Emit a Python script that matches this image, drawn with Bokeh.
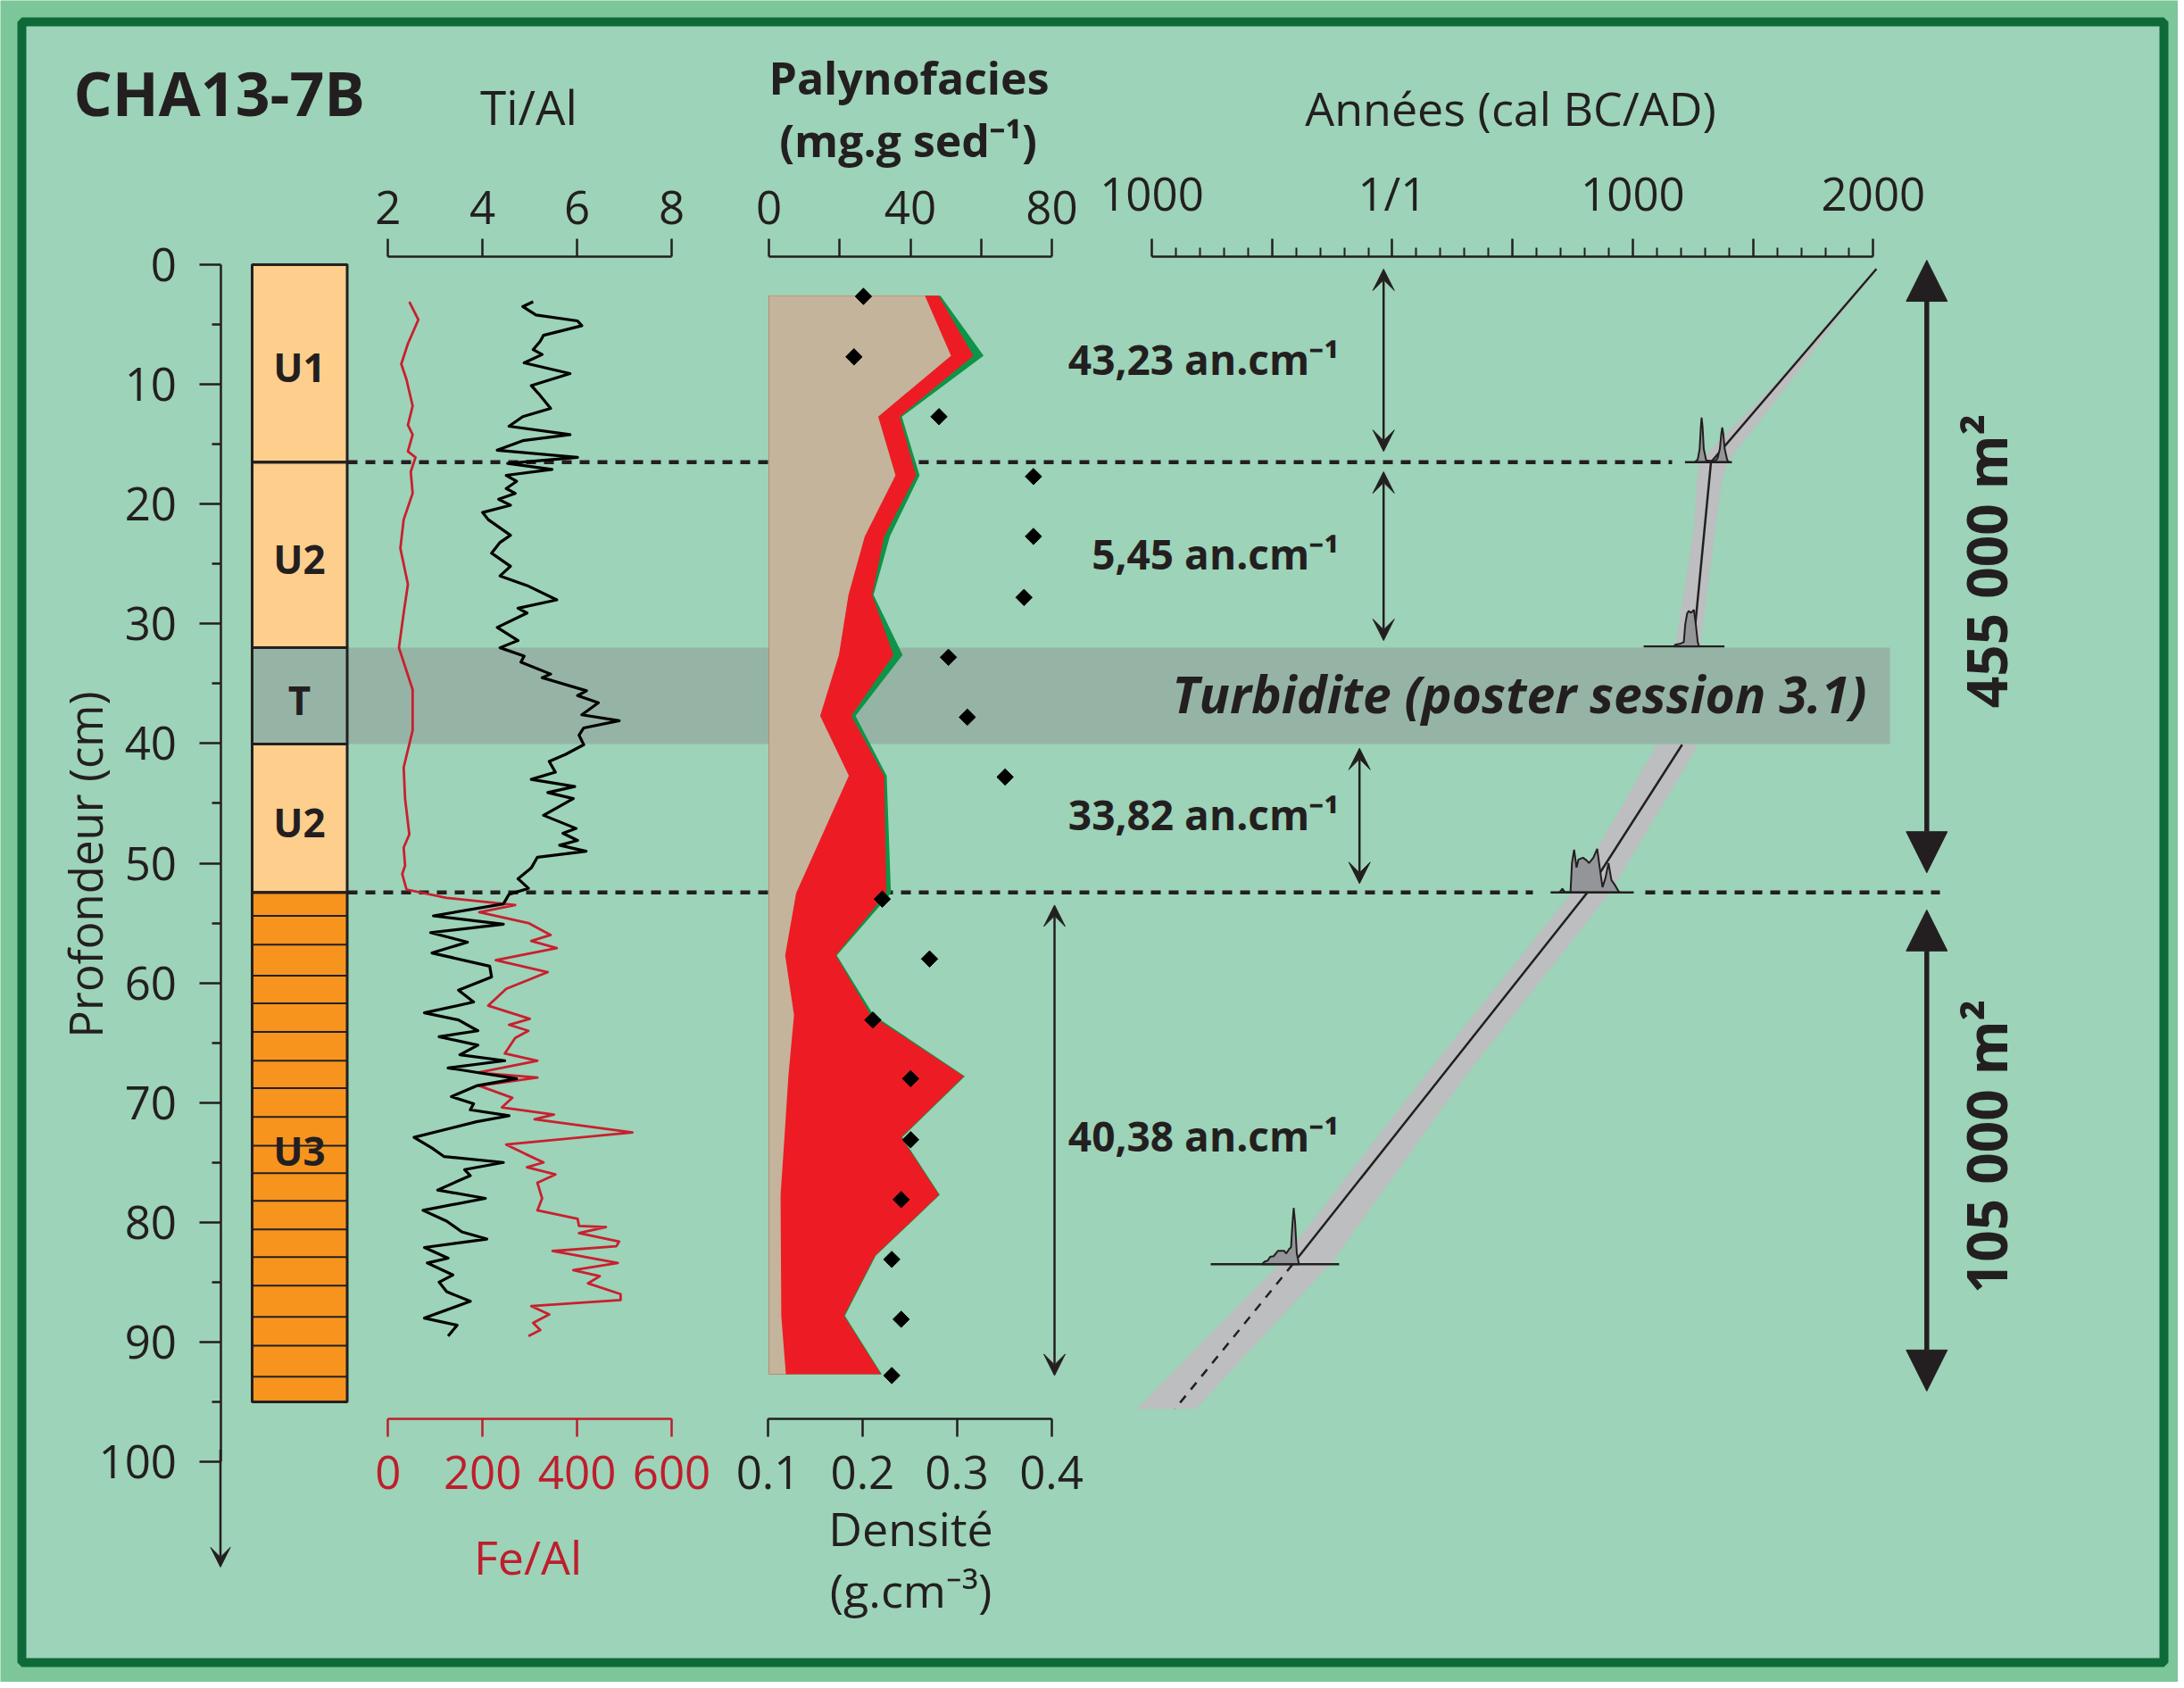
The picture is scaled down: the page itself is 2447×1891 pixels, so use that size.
import numpy as np
from bokeh.plotting import figure
from bokeh.models import Range1d, LinearAxis, FixedTicker, Arrow, VeeHead, NormalHead
from bokeh.core.properties import value
from bokeh.embed import file_html
from bokeh.resources import INLINE

# ---------------- data ----------------
# Ti/Al profile (depth cm, ratio)
tial_depth = [3.1, 3.5, 4.2, 4.7, 5.1, 5.9, 6.4, 7.1, 7.5, 8.2,
              9.1, 10.1, 10.8, 12.0, 12.7, 13.5, 14.2, 14.7, 15.5, 16.1,
              16.6, 17.1, 17.6, 18.1, 18.7, 19.1, 19.6, 20.1, 20.7, 21.3,
              22.6, 23.2, 24.1, 25.2, 26.0, 26.8, 28.0, 28.7, 29.1, 30.3,
              31.4, 32.0, 32.7, 33.2, 34.2, 34.5, 35.6, 36.0, 36.6, 37.6,
              38.1, 38.7, 39.3, 40.1, 40.9, 41.5, 42.4, 43.0, 43.6, 44.1,
              44.6, 46.0, 47.1, 47.5, 48.1, 48.5, 49.0, 49.5, 50.4, 51.3,
              52.1, 52.6, 53.4, 54.4, 55.1, 55.8, 56.6, 57.5, 58.6, 59.5,
              60.6, 61.6, 62.5, 63.1, 64.0, 64.5, 65.2, 66.0, 66.5, 67.1,
              68.0, 68.6, 69.5, 70.1, 70.6, 71.1, 71.6, 72.9, 73.8, 74.5,
              75.0, 75.6, 76.1, 77.3, 78.0, 79.0, 79.9, 80.8, 81.4, 82.1,
              83.0, 83.4, 84.4, 85.0, 85.8, 86.6, 88.0, 88.6, 89.5]
tial_value = [5.07, 4.85, 5.13, 6.01, 6.10, 5.29, 5.22, 5.07, 5.26, 4.88,
              5.85, 5.03, 5.19, 5.44, 4.85, 4.56, 5.85, 4.85, 4.31, 6.01,
              4.53, 5.47, 4.50, 4.72, 4.50, 4.69, 4.34, 4.59, 4.00, 4.12,
              4.59, 4.37, 4.19, 4.59, 4.37, 4.94, 5.57, 4.75, 4.94, 4.31,
              4.75, 4.37, 4.88, 4.81, 5.44, 5.26, 6.20, 6.01, 6.45, 6.10,
              6.89, 6.14, 6.04, 6.14, 5.76, 5.41, 5.54, 5.03, 5.95, 5.38,
              5.92, 5.29, 5.98, 5.70, 6.01, 5.63, 6.19, 5.16, 5.03, 4.75,
              4.97, 4.56, 4.44, 2.96, 4.44, 2.90, 3.68, 2.93, 4.15, 4.19,
              3.49, 3.81, 2.77, 3.49, 3.90, 3.08, 3.90, 3.52, 4.47, 3.27,
              4.72, 3.87, 3.34, 3.81, 3.74, 4.56, 3.87, 2.55, 2.93, 3.18,
              4.44, 3.62, 3.74, 3.05, 4.06, 2.74, 3.24, 3.56, 4.09, 2.77,
              3.27, 2.83, 3.37, 3.08, 3.24, 3.74, 2.77, 3.46, 3.27]

# Fe/Al profile (depth cm, ratio)
feal_depth = [3.1, 4.6, 6.6, 8.3, 9.6, 11.8, 13.4, 14.2, 15.6, 16.1,
              17.3, 19.1, 21.3, 23.7, 26.7, 29.1, 32.0, 35.5, 38.9, 42.0,
              44.6, 47.6, 48.7, 50.2, 50.9, 52.2, 52.9, 53.5, 54.1, 55.0,
              56.0, 56.5, 57.1, 58.1, 59.1, 60.5, 61.9, 63.0, 63.5, 64.0,
              64.6, 65.9, 66.5, 67.5, 67.9, 68.6, 69.6, 70.4, 71.0, 71.4,
              72.5, 73.5, 74.3, 75.0, 75.4, 76.0, 76.7, 78.0, 79.0, 79.7,
              80.3, 80.4, 80.9, 81.6, 82.0, 82.4, 83.4, 84.0, 84.5, 85.1,
              86.0, 86.5, 87.0, 87.7, 88.4, 89.0, 89.5]
feal_value = [45, 64, 42, 28, 39, 52, 42, 52, 42, 58,
              48, 52, 33, 26, 42, 33, 23, 52, 52, 33,
              36, 45, 33, 36, 30, 39, 124, 269, 193, 297,
              344, 303, 357, 228, 338, 250, 212, 300, 256, 297,
              269, 247, 316, 190, 316, 193, 263, 241, 351, 310,
              517, 250, 291, 329, 294, 354, 316, 326, 316, 401,
              404, 461, 404, 489, 483, 348, 486, 392, 448, 423,
              492, 492, 303, 341, 307, 322, 297]

# Palynofacies (mg/g sed) - three stacked components
paly_depth = [2.6, 7.6, 12.7, 17.6, 22.7, 27.6, 32.6, 37.7, 42.7, 52.5,
              57.7, 62.7, 67.8, 72.9, 77.7, 82.8, 87.8, 92.7]
paly_tan = [44.1, 51.5, 30.9, 35.8, 27.1, 22.5, 19.8, 14.5, 22.6, 7.7,
            4.6, 7.1, 5.5, 4.4, 3.3, 3.4, 3.5, 4.8]
paly_red = [3.9, 6.3, 6.1, 5.8, 5.5, 6.7, 15.4, 8.8, 10.0, 25.5,
            14.3, 21.7, 49.6, 33.0, 44.8, 26.6, 17.7, 26.9]
paly_green = [0.5, 2.9, 0.6, 1.0, 1.6, 0.4, 2.6, 1.2, 0.7, 1.3,
              0.3, 0.8, 0.3, 0.3, 0.2, 0.2, 0.3, 0.2]

# Dry density (g/cm3)
dens_depth = [2.65, 7.7, 12.7, 17.7, 22.7, 27.8, 32.8, 37.8, 42.8, 53.0,
              58.0, 63.1, 68.0, 73.1, 78.1, 83.1, 88.1, 92.8]
density = [0.201, 0.191, 0.281, 0.381, 0.381, 0.371, 0.291, 0.311, 0.351, 0.221,
           0.271, 0.211, 0.251, 0.251, 0.241, 0.231, 0.241, 0.231]

# Lithology
lith_top = [0.0, 16.5, 32.0, 40.05, 52.45]
lith_bottom = [16.5, 32.0, 40.05, 52.45, 95.0]
lith_unit = ["U1", "U2", "T", "U2", "U3"]
u3_laminae = [54.4, 56.8, 59.4, 61.7, 64.1, 66.5, 68.8, 71.2, 73.6, 75.9,
              78.2, 80.6, 82.9, 85.3, 87.9, 90.3, 92.9]
turbidite_top, turbidite_bottom = 32.0, 40.05

# Age-depth model (cal BC/AD)
age_depth_upper = [0.35, 16.5, 31.9]
age_year_upper = [2013, 1325, 1251]
age_depth_lower = [40.1, 52.45, 83.5]
age_year_lower = [1205, 811, -414]
age_depth_extrap = [83.5, 95.6]
age_year_extrap = [-414, -904]
env_depth = [0.35, 5, 10, 16.5, 18, 22, 31.6, 40.1, 41.3, 52.4, 67.9, 83.4, 95.6]
env_young = [2013, 1832, 1647, 1394, 1372, 1343, 1282, 1270, 1238, 907, 300, -254, -818]
env_old = [2013, 1813, 1591, 1273, 1267, 1254, 1179, 1099, 1067, 748, 130, -467, -1063]

# Calibrated date distributions (depth, baseline extent, curve year / height in cm)
date_depth = [16.5, 31.9, 52.45, 83.5]
date_base_from = [1217, 1045, 658, -755]
date_base_to = [1412, 1381, 1004, -221]
date1_year = [1258, 1270, 1278, 1283, 1286, 1290, 1295, 1305, 1340, 1352, 1362, 1368, 1372, 1376, 1382, 1392, 1398]
date1_h = [0, 0.22, 1.12, 2.98, 3.73, 2.98, 1.12, 0.15, 0.07, 0.30, 1.12, 2.39, 2.89, 2.39, 1.12, 0.22, 0]
date2_year = [1170, 1177, 1195, 1212, 1218, 1226, 1233, 1240, 1247, 1254, 1262, 1270, 1276]
date2_h = [0, 0.15, 0.22, 0.37, 1.86, 2.76, 2.98, 2.83, 2.91, 3.06, 1.86, 0.37, 0]
date3_year = [695, 707, 719, 741, 747, 756, 766, 774, 793, 808, 818, 836, 852, 865, 874, 886, 899, 911, 924, 942, 948]
date3_h = [0, 0.32, 0, 0.05, 2.46, 3.58, 2.09, 2.76, 2.91, 2.68, 2.46, 2.91, 3.65, 1.72, 0.45, 1.19, 2.46, 1.04, 0.67, 0.07, 0]
date4_year = [-542, -530, -518, -508, -493, -475, -450, -441, -429, -421, -415, -410, -404, -397, -388]
date4_h = [0, 0.22, 0.30, 0.62, 0.67, 1.12, 1.12, 0.89, 1.27, 1.42, 3.43, 4.70, 3.43, 0.89, 0]

# Sedimentation rates and areas
rate_labels = ["43,23 an.cm⁻¹", "5,45 an.cm⁻¹", "33,82 an.cm⁻¹", "40,38 an.cm⁻¹"]
rate_from = [0.37, 17.3, 40.4, 53.5]
rate_to = [15.6, 31.4, 51.7, 92.8]
area_labels = ["455 000 m²", "105 000 m²"]
area_from = [-0.37, 53.9]
area_to = [50.8, 94.1]

# Axis ticks
depth_ticks = [0, 10, 20, 30, 40, 50, 60, 70, 80, 90, 100]
depth_minor = [5, 15, 25, 35, 45, 55, 65, 75, 85, 95]
tial_ticks = [2, 4, 6, 8]
feal_ticks = [0, 200, 400, 600]
paly_ticks = [0, 20, 40, 60, 80]
dens_ticks = [0.1, 0.2, 0.3, 0.4]
year_ticks = [-1000, -500, 0, 500, 1000, 1500, 2000]
year_minor = [-900, -800, -700, -600, -400, -300, -200, -100, 100, 200, 300, 400,
              600, 700, 800, 900, 1100, 1200, 1300, 1400, 1600, 1700, 1800, 1900]
year_tick_labels = {-1000: "1000", -500: "", 0: "1/1", 500: "", 1000: "1000", 1500: "", 2000: "2000"}

# ---------------- style / layout ----------------
W, H = 2440, 1884
OX, OY = 0, 0
Y0, KY = 296.0, 13.41
INK = "#231f20"
OUTER = "#7cc69a"
INNER = "#9dd3b8"
FRAME = "#0e6a39"
LIGHT = "#fdce8c"
ORANGE = "#f7941e"
BAND = "#96b4a6"
TAN = "#c4b49b"
PRED = "#ed1c24"
PGREEN = "#0d9448"
FERED = "#c8202f"
AXRED = "#be1e2d"
ENV = "#bcbec0"
DIST = "#939598"
FONT = "Open Sans"


def depth_of(py):
    return (py - Y0) / KY


def xrange_for(v0, v1, px0, px1):
    k = (v1 - v0) / (px1 - px0)
    return Range1d(start=v0 + (OX - px0) * k, end=v0 + (OX + W - px0) * k)


p = figure(width=W, height=H, x_range=Range1d(OX, OX + W),
           y_range=Range1d(depth_of(OY + H), depth_of(OY)),
           output_backend="svg", toolbar_location=None,
           x_axis_type=None, y_axis_type=None, min_border=0,
           background_fill_color=OUTER, border_fill_color=OUTER,
           outline_line_color=None)
p.extra_y_ranges = {"py": Range1d(OY + H, OY)}
p.extra_x_ranges = {
    "ti": xrange_for(2, 8, 434.3, 752.0),
    "fe": xrange_for(0, 600, 434.3, 752.0),
    "paly": xrange_for(0, 80, 861, 1178),
    "dens": xrange_for(0.1, 0.4, 860, 1177.5),
    "year": xrange_for(-1000, 2000, 1290, 2098.4),
}

# panel
p.quad(left=[24], right=[2424], top=[24], bottom=[1862], y_range_name="py",
       fill_color=INNER, line_color=FRAME, line_width=10)

# age model
p.patch(x=env_young + env_old[::-1], y=env_depth + env_depth[::-1], x_range_name="year",
        fill_color=ENV, line_color=None)
p.line(x=age_year_upper, y=age_depth_upper, x_range_name="year", line_color=INK, line_width=2.5)
p.line(x=age_year_lower, y=age_depth_lower, x_range_name="year", line_color=INK, line_width=2.5)
p.line(x=age_year_extrap, y=age_depth_extrap, x_range_name="year", line_color=INK,
       line_width=2.5, line_dash="10 9")
for d, yrs, hs in zip(date_depth, [date1_year, date2_year, date3_year, date4_year],
                      [date1_h, date2_h, date3_h, date4_h]):
    p.patch(x=yrs, y=[d - h for h in hs], x_range_name="year",
            fill_color=DIST, line_color=INK, line_width=2)
p.segment(x0=date_base_from, x1=date_base_to, y0=date_depth, y1=date_depth,
          x_range_name="year", line_color=INK, line_width=2.5)

# unit boundaries (dashed)
p.segment(x0=[389, 389, 1843], x1=[1873, 1717, 2173], y0=[16.5, 52.45, 52.45],
          y1=[16.5, 52.45, 52.45], line_color=INK, line_width=4.5, line_dash="11 9")

# lithology fills
lith_fill = {"U1": LIGHT, "U2": LIGHT, "T": BAND, "U3": ORANGE}
p.quad(left=282, right=388.5, top=lith_top, bottom=lith_bottom,
       fill_color=[lith_fill[u] for u in lith_unit], line_color=None)

# turbidite band
p.quad(left=[282], right=[2117], top=[turbidite_top], bottom=[turbidite_bottom],
       fill_color=BAND, line_color=None)

# palynofacies stacked areas
tan = np.array(paly_tan)
red_c = tan + np.array(paly_red)
green_c = red_c + np.array(paly_green)
zeros = np.zeros(len(tan))
p.harea(x1=zeros, x2=green_c, y=paly_depth, x_range_name="paly", fill_color=PGREEN)
p.harea(x1=zeros, x2=red_c, y=paly_depth, x_range_name="paly", fill_color=PRED)
p.harea(x1=zeros, x2=tan, y=paly_depth, x_range_name="paly", fill_color=TAN)

# density
p.scatter(x=density, y=dens_depth, x_range_name="dens", marker="square", angle=np.pi / 4,
          size=13, fill_color="black", line_color="black")

# lithology outlines, laminae
p.quad(left=282, right=388.5, top=lith_top, bottom=lith_bottom,
       fill_color=None, line_color=INK, line_width=3)
p.segment(x0=282, x1=388.5, y0=u3_laminae, y1=u3_laminae, line_color=INK, line_width=2)

# geochemistry curves
p.line(x=feal_value, y=feal_depth, x_range_name="fe", line_color=FERED, line_width=2.8,
       line_join="round")
p.line(x=tial_value, y=tial_depth, x_range_name="ti", line_color="black", line_width=3.2,
       line_join="round")


# ---------------- axes ----------------
def haxis(rname, ticks, bounds, loc, side, color=INK, overrides=None, minor=None,
          standoff=17):
    ax = LinearAxis(x_range_name=rname, fixed_location=loc, bounds=bounds,
                    ticker=FixedTicker(ticks=ticks, minor_ticks=minor or []),
                    axis_line_color=color, axis_line_width=2.5,
                    major_tick_line_color=color, major_tick_line_width=2.5,
                    minor_tick_line_color=color, minor_tick_line_width=2,
                    major_tick_in=0, major_tick_out=20,
                    minor_tick_in=0, minor_tick_out=10 if minor else 0,
                    major_label_text_font=FONT, major_label_text_font_size="51px",
                    major_label_text_color=color, major_label_standoff=standoff)
    if overrides:
        ax.major_label_overrides = overrides
    p.add_layout(ax, side)


haxis("ti", tial_ticks, (2, 8), -0.67, "above")
haxis("paly", paly_ticks, (0, 80), -0.67, "above", overrides={20: "", 60: ""})
haxis("year", year_ticks, (-1000, 2000), -0.67, "above", overrides=year_tick_labels,
      minor=year_minor)
haxis("fe", feal_ticks, (0, 600), 96.45, "below", color=AXRED, standoff=21)
haxis("dens", dens_ticks, (0.1, 0.4), 96.45, "below", standoff=21,
      overrides={0.1: "0.1", 0.2: "0.2", 0.3: "0.3", 0.4: "0.4"})

yax = LinearAxis(fixed_location=246.5, bounds=(0, 100),
                 ticker=FixedTicker(ticks=depth_ticks, minor_ticks=depth_minor),
                 axis_line_color=INK, axis_line_width=2.5,
                 major_tick_line_color=INK, major_tick_line_width=2.5,
                 minor_tick_line_color=INK, minor_tick_line_width=2.5,
                 major_tick_in=0, major_tick_out=24, minor_tick_in=0, minor_tick_out=10,
                 major_label_text_font=FONT, major_label_text_font_size="51px",
                 major_label_text_color=INK, major_label_standoff=25)
p.add_layout(yax, "left")
p.add_layout(Arrow(end=VeeHead(size=22, fill_color=INK, line_color=INK), start=None,
                   x_start=246.5, y_start=99, x_end=246.5, y_end=108.8,
                   line_color=INK, line_width=2.5))

# rate arrows
for x, a, b in zip([1549.7, 1549.7, 1522.7, 1181], rate_from, rate_to):
    p.add_layout(Arrow(start=VeeHead(size=24, fill_color=INK, line_color=INK),
                       end=VeeHead(size=24, fill_color=INK, line_color=INK),
                       x_start=x, y_start=a, x_end=x, y_end=b, line_color=INK, line_width=2.5))
for a, b in zip(area_from, area_to):
    p.add_layout(Arrow(start=NormalHead(size=46, fill_color=INK, line_color=INK),
                       end=NormalHead(size=46, fill_color=INK, line_color=INK),
                       x_start=2158.3, y_start=a, x_end=2158.3, y_end=b,
                       line_color=INK, line_width=5.5))


# ---------------- texts (positioned by visual centre) ----------------
def txt(x, y, s, size, style="normal", color=INK, align="center", angle=0.0, yr="py"):
    kw = dict(y_range_name=yr) if yr else {}
    p.text(x=[x], y=[y], text=[s], text_font=value(FONT), text_font_size=f"{size}px",
           text_font_style=style, text_color=color, text_align=align,
           text_baseline="middle", angle=angle, **kw)


txt(82, 103, "CHA13-7B", 68, "bold", align="left")
txt(592, 119, "Ti/Al", 53)
txt(1018, 86, "Palynofacies", 50, "bold")
txt(1017, 156, "(mg.g sed⁻¹)", 50, "bold")
txt(1692, 120, "Années (cal BC/AD)", 52)
txt(94, 968, "Profondeur (cm)", 51, angle=np.pi / 2)
txt(591, 1743, "Fe/Al", 52, color=AXRED)
txt(1020, 1711, "Densité", 52)
txt(1020, 1780, "(g.cm⁻³)", 52)
for s, yc in zip(rate_labels, [401, 619, 911, 1271]):
    txt(1500, yc, s, 46, "bold", align="right")
txt(2091, 776, "Turbidite (poster session 3.1)", 57, "bold italic", align="right")
for s, yc in zip(area_labels, [628, 1284]):
    txt(2224, yc, s, 62, "bold", angle=np.pi / 2)
for u, a, b in zip(lith_unit, lith_top, lith_bottom):
    txt(335, (a + b) / 2 + 0.3, u, 44, "bold", yr=None)

html = file_html(p, INLINE)
html = html.replace("<body>", '<body style="background-color:%s;">' % OUTER, 1)
open("out.html", "w").write(html)
